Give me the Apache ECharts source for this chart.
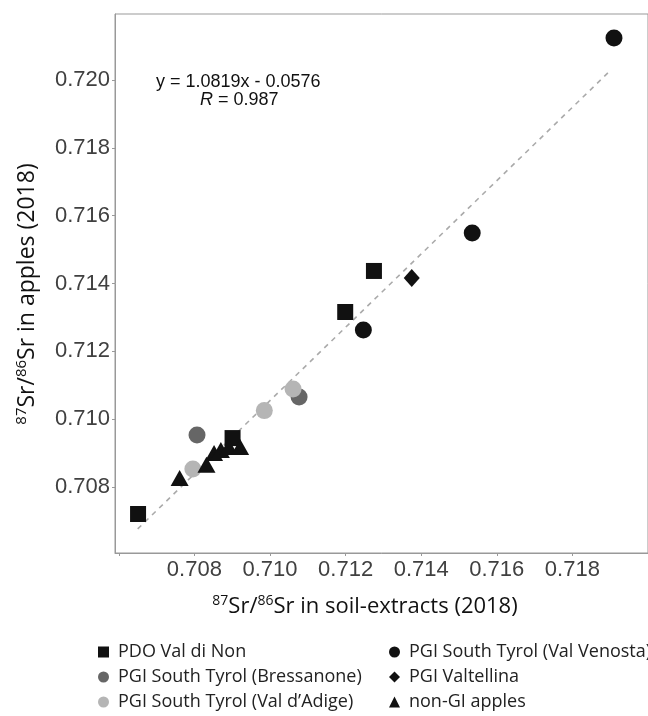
<!DOCTYPE html>
<html>
<head>
<meta charset="utf-8">
<script src="https://cdn.jsdelivr.net/npm/echarts@6/dist/echarts.min.js"></script>
<style>html,body{margin:0;padding:0;background:#fff;overflow:hidden;}#c{width:648px;height:716px;}</style>
</head>
<body>
<div id="c"></div>
<script>
// ---- data (x = soil extract 87Sr/86Sr, y = apple 87Sr/86Sr) ----
const seriesNames = ['PDO Val di Non','PGI South Tyrol (Bressanone)','PGI South Tyrol (Val d\u2019Adige)','PGI South Tyrol (Val Venosta)','PGI Valtellina','non-GI apples'];
const valDiNon = [[0.70651,0.70720],[0.70901,0.70944],[0.71199,0.71316],[0.71275,0.71437]];
const bressanone = [[0.70807,0.70953],[0.71077,0.71065]];
const valDAdige = [[0.70796,0.70853],[0.70985,0.71025],[0.71061,0.71089]];
const valVenosta = [[0.71247,0.71263],[0.71535,0.71549],[0.71910,0.72124]];
const valtellina = [[0.71375,0.71416]];
const nonGI = [[0.70761,0.70826],[0.70832,0.70865],[0.70852,0.70900],[0.70870,0.70909],[0.70891,0.70918],[0.70921,0.70918]];
const fitLine = [[0.70650,0.70676],[0.71902,0.72030]];
const xTicks = [0.706,0.708,0.710,0.712,0.714,0.716,0.718,0.720];
const yTicks = [0.708,0.710,0.712,0.714,0.716,0.718,0.720];
const xLabelHidden = [0.706, 0.720];
const xTitle = '{sup|87}{t|Sr/}{sup|86}{t|Sr in soil-extracts (2018)}';
const yTitle = '{sup|87}{t|Sr/}{sup|86}{t|Sr in apples (2018)}';

const chart = echarts.init(document.getElementById('c'), null, {renderer:'canvas'});
const FONT = '"Liberation Sans", Arial, sans-serif';
const TFONT = '"Open Sans", "Noto Sans", sans-serif';
const black = '#111111', dgrey = '#666666', lgrey = '#b5b5b5';

function sc(name, data, symbol, size, color){
  return {name:name, type:'scatter', data:data, symbol:symbol, symbolSize:size,
    itemStyle:{color:color, opacity:1}, z:3, emphasis:{disabled:true}};
}
function rich(sz, ssz, pad){
  return {t:{fontSize:sz, fontFamily:TFONT, fill:'#111', color:'#111'}, sup:{fontSize:ssz, fontFamily:TFONT, fill:'#111', color:'#111', padding:[0,0,pad,0]}};
}
const legendBase = {orient:'vertical', top:643, height:80, itemGap:7, itemWidth:11, itemHeight:11,
  textStyle:{fontSize:18, fontFamily:TFONT, color:'#222', padding:[0,0,0,4]}, selectedMode:false, padding:0};

const option = {
  animation:false,
  grid:{left:115, width:553, top:14, bottom:163, show:true, borderColor:'#999', borderWidth:1, containLabel:false},
  xAxis:{type:'value', min:0.7059, max:0.7200,
    axisLine:{show:true, lineStyle:{color:'#999'}},
    axisTick:{show:true, length:3, lineStyle:{color:'#999'}, customValues:xTicks},
    axisLabel:{customValues:xTicks.filter(v=>!xLabelHidden.includes(v)), formatter:v=>v.toFixed(3), color:'#404040', fontSize:22, fontFamily:FONT, margin:6},
    splitLine:{show:false}
  },
  yAxis:{type:'value', min:0.70605, max:0.72195,
    axisLine:{show:true, lineStyle:{color:'#999'}},
    axisTick:{show:true, length:3, lineStyle:{color:'#999'}, customValues:yTicks},
    axisLabel:{customValues:yTicks, formatter:v=>v.toFixed(3), color:'#404040', fontSize:22, fontFamily:FONT, margin:5},
    splitLine:{show:false}
  },
  legend:[
    Object.assign({}, legendBase, {data:[seriesNames[0],seriesNames[1],seriesNames[2]], left:98}),
    Object.assign({}, legendBase, {data:[seriesNames[3],seriesNames[4],seriesNames[5]], left:389})
  ],
  graphic:[
    {type:'text', x:365, y:607, style:{text:xTitle, align:'center', verticalAlign:'middle', rich:rich(22,14,11)}},
    {type:'text', x:27, y:294, rotation:Math.PI/2, style:{text:yTitle, align:'center', verticalAlign:'middle', rich:rich(23,15,11)}},
    {type:'text', left:156, top:73, style:{text:'y = 1.0819x - 0.0576', font:'18px "Liberation Sans", Arial, sans-serif', fill:'#111'}},
    {type:'text', left:200, top:91, style:{text:'{i|R} = 0.987', font:'18px "Liberation Sans", Arial, sans-serif', fill:'#111',
      rich:{i:{fontStyle:'italic', fontSize:18, fontFamily:FONT, fill:'#111'}}}}
  ],
  series:[
    {name:'fit', type:'line', data:fitLine, symbol:'none', lineStyle:{color:'#aaaaaa', width:1.6, type:[5,5]}, z:2, silent:true},
    sc(seriesNames[0], valDiNon, 'rect', 16, black),
    sc(seriesNames[1], bressanone, 'circle', 17, dgrey),
    sc(seriesNames[2], valDAdige, 'circle', 17, lgrey),
    sc(seriesNames[3], valVenosta, 'circle', 17, black),
    sc(seriesNames[4], valtellina, 'diamond', [16,18], black),
    sc(seriesNames[5], nonGI, 'triangle', [18,16], black)
  ]
};
chart.setOption(option);
</script>
</body>
</html>
